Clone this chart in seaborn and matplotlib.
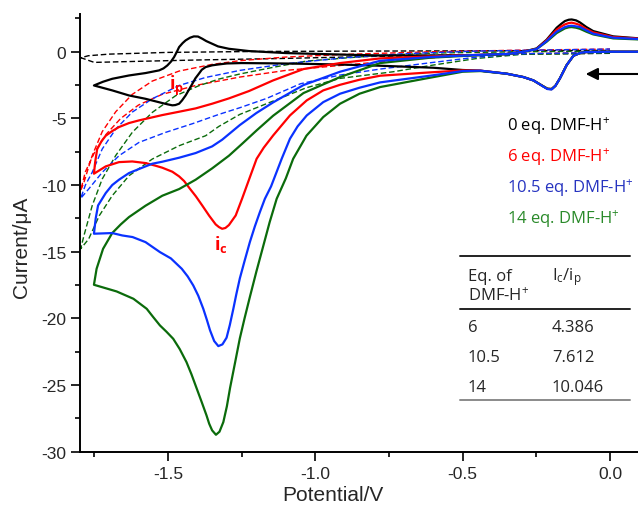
import numpy as np
import pandas as pd
import matplotlib
matplotlib.use("Agg")
import matplotlib.pyplot as plt
from matplotlib.lines import Line2D
from matplotlib.ticker import MultipleLocator, FixedLocator
import seaborn as sns

# ---------------- data ----------------
# Solid CVs: forward (cathodic) branch then reverse (anodic) branch
E_blk_fwd = [0.10, 0.0, -0.08, -0.10, -0.124, -0.147, -0.17, -0.185, -0.198, -0.212,
             -0.226, -0.245, -0.26, -0.294, -0.35, -0.44, -0.50, -0.60, -0.78, -0.90,
             -1.05, -1.15, -1.25, -1.30, -1.327, -1.35, -1.372, -1.385, -1.395, -1.407, -1.417,
             -1.43, -1.44, -1.452, -1.462, -1.475, -1.485, -1.50,
             -1.519, -1.576, -1.632, -1.689, -1.751]
I_blk_fwd = [0.0, 0.0, -0.02, -0.08, -0.3, -1.0, -2.0, -2.55, -2.8, -2.78,
             -2.6, -2.35, -2.15, -1.9, -1.65, -1.42, -1.37, -1.2, -1.05, -0.97,
             -0.9, -0.87, -0.85, -0.88, -0.95, -1.02, -1.15, -1.35, -1.65, -2.0, -2.4,
             -2.9, -3.28, -3.65, -3.9, -4.0, -4.02, -3.95,
             -3.85, -3.53, -3.28, -2.9, -2.53]
E_blk_rev = [-1.751, -1.72, -1.689, -1.632, -1.576, -1.53, -1.515, -1.502, -1.49, -1.479, -1.47,
             -1.462, -1.45, -1.44, -1.425, -1.412, -1.398, -1.383, -1.37, -1.35, -1.33, -1.293,
             -1.225, -1.10, -0.90, -0.78, -0.60, -0.44,
             -0.35, -0.294, -0.249, -0.215, -0.181, -0.165, -0.153, -0.14, -0.13, -0.115, -0.102,
             -0.08, -0.057, 0.011, 0.10]
I_blk_rev = [-2.53, -2.25, -2.03, -1.78, -1.6, -1.4, -1.25, -1.03, -0.75, -0.4, -0.02,
             0.35, 0.65, 0.85, 1.05, 1.15, 1.14, 0.97, 0.8, 0.6, 0.4, 0.22,
             0.05, -0.1, -0.22, -0.28, -0.28, -0.25,
             -0.17, 0.0, 0.25, 0.9, 1.8, 2.1, 2.3, 2.4, 2.42, 2.35, 2.2,
             1.85, 1.55, 1.15, 1.0]

E_red_fwd = [0.10, 0.0, -0.08, -0.10, -0.124, -0.147, -0.17, -0.185, -0.198, -0.212,
             -0.226, -0.245, -0.26, -0.294, -0.35, -0.44, -0.50, -0.611, -0.78, -0.85,
             -0.916, -0.973, -1.029, -1.086, -1.143, -1.175, -1.199, -1.225, -1.248, -1.27, -1.293,
             -1.305, -1.316, -1.327, -1.338, -1.36, -1.383, -1.405, -1.428, -1.445, -1.462, -1.485,
             -1.519, -1.542, -1.576, -1.621, -1.666, -1.711, -1.751]
I_red_fwd = [0.0, 0.0, -0.02, -0.08, -0.3, -1.0, -2.0, -2.55, -2.8, -2.78,
             -2.6, -2.35, -2.15, -1.9, -1.65, -1.42, -1.4, -1.55, -1.8, -2.1,
             -2.48, -2.9, -3.65, -4.78, -6.28, -7.2, -8.03, -9.6, -11.0, -12.28, -13.0,
             -13.22, -13.28, -13.15, -12.95, -12.3, -11.55, -10.85, -10.2, -9.7, -9.35, -9.0,
             -8.7, -8.55, -8.35, -8.23, -8.28, -8.6, -9.15]
E_red_rev = [-1.751, -1.747, -1.74, -1.725, -1.711, -1.689, -1.666, -1.632, -1.598, -1.519,
             -1.462, -1.406, -1.35, -1.293, -1.225, -1.143, -1.04, -0.916, -0.78, -0.611,
             -0.44, -0.35, -0.294, -0.249, -0.215, -0.181, -0.165, -0.153, -0.14, -0.13, -0.115,
             -0.102, -0.08, -0.057, 0.011, 0.10]
I_red_rev = [-9.15, -8.3, -7.3, -6.7, -6.3, -5.95, -5.65, -5.35, -5.15, -4.75,
             -4.5, -4.25, -3.9, -3.5, -2.95, -2.15, -1.3, -0.85, -0.5, -0.35,
             -0.23, -0.17, 0.0, 0.22, 0.85, 1.65, 1.9, 2.05, 2.15, 2.18, 2.1,
             2.0, 1.7, 1.45, 1.1, 0.98]

E_grn_fwd = [0.10, 0.0, -0.08, -0.10, -0.124, -0.147, -0.17, -0.185, -0.198, -0.212,
             -0.226, -0.245, -0.26, -0.294, -0.35, -0.44, -0.50, -0.611, -0.78, -0.85,
             -0.916, -0.973, -1.03, -1.075, -1.10, -1.131, -1.155, -1.176, -1.20, -1.222, -1.24,
             -1.256, -1.272, -1.289, -1.30, -1.312, -1.325, -1.337, -1.35, -1.36, -1.369, -1.385,
             -1.402, -1.42, -1.437, -1.46, -1.482, -1.505, -1.527, -1.55, -1.572,
             -1.617, -1.674, -1.697, -1.751]
I_grn_fwd = [0.0, 0.0, -0.02, -0.08, -0.3, -1.0, -2.0, -2.55, -2.8, -2.78,
             -2.6, -2.35, -2.15, -1.9, -1.65, -1.45, -1.5, -1.95, -2.65, -3.15,
             -3.9, -4.9, -6.3, -8.03, -9.5, -11.03, -12.8, -14.53, -16.5, -18.4, -20.0,
             -21.5, -23.3, -25.2, -26.6, -27.78, -28.5, -28.73, -28.4, -27.9, -27.28, -26.3,
             -25.28, -24.2, -23.28, -22.3, -21.53, -21.0, -20.53, -19.9, -19.28,
             -18.53, -17.98, -17.83, -17.48]
E_grn_rev = [-1.751, -1.742, -1.72, -1.689, -1.66, -1.632, -1.576, -1.519, -1.462, -1.406, -1.35,
             -1.293, -1.248, -1.199, -1.143, -1.04, -0.916, -0.78, -0.611, -0.44, -0.35,
             -0.294, -0.249, -0.215, -0.181, -0.165, -0.153, -0.14, -0.13, -0.115, -0.102,
             -0.08, -0.057, 0.011, 0.10]
I_grn_rev = [-17.48, -16.28, -14.78, -13.6, -12.95, -12.4, -11.55, -10.8, -10.3, -9.6, -8.75,
             -7.8, -6.9, -5.9, -4.8, -3.1, -1.9, -0.85, -0.45, -0.25, -0.18,
             0.0, 0.2, 0.75, 1.4, 1.6, 1.75, 1.83, 1.85, 1.8, 1.72,
             1.5, 1.3, 1.0, 0.92]

E_blu_fwd = [0.10, 0.0, -0.08, -0.10, -0.124, -0.147, -0.17, -0.185, -0.198, -0.212,
             -0.226, -0.245, -0.26, -0.294, -0.35, -0.44, -0.50, -0.611, -0.78, -0.85,
             -0.916, -0.973, -1.029, -1.06, -1.086, -1.114, -1.15, -1.171, -1.188, -1.205, -1.222, -1.24,
             -1.256, -1.268, -1.278, -1.29, -1.301, -1.315, -1.329, -1.343, -1.357, -1.368, -1.38,
             -1.397, -1.414, -1.433, -1.453, -1.49, -1.527, -1.576, -1.62, -1.655, -1.689, -1.751]
I_blu_fwd = [0.0, 0.0, -0.02, -0.08, -0.3, -1.0, -2.0, -2.55, -2.83, -2.8,
             -2.62, -2.35, -2.15, -1.9, -1.65, -1.42, -1.45, -1.8, -2.3, -2.7,
             -3.15, -3.78, -4.78, -5.6, -6.53, -8.03, -10.1, -11.03, -12.03, -13.1, -14.28, -15.7,
             -17.0, -18.2, -19.28, -20.5, -21.45, -21.95, -22.08, -21.7, -20.9, -20.1, -19.28,
             -18.3, -17.53, -16.85, -16.28, -15.5, -15.03, -14.28, -13.9, -13.78, -13.6, -13.65]
E_blu_rev = [-1.751, -1.745, -1.737, -1.711, -1.689, -1.666, -1.632, -1.621, -1.576, -1.553,
             -1.519, -1.462, -1.406, -1.35, -1.316, -1.256, -1.20, -1.143, -1.04, -0.916,
             -0.78, -0.611, -0.44, -0.35, -0.294, -0.249, -0.215, -0.181, -0.165, -0.153, -0.14,
             -0.13, -0.115, -0.102, -0.08, -0.057, 0.011, 0.10]
I_blu_rev = [-13.65, -12.5, -11.53, -10.6, -10.0, -9.6, -9.1, -9.0, -8.6, -8.4,
             -8.25, -7.95, -7.6, -7.1, -6.6, -5.5, -4.6, -3.8, -2.5, -1.5,
             -0.68, -0.4, -0.23, -0.17, 0.0, 0.2, 0.8, 1.5, 1.7, 1.85, 1.93,
             1.95, 1.9, 1.85, 1.6, 1.35, 1.05, 0.95]

# Dashed (background) scans: lower branch 0 -> -1.8 V, upper branch back to 0 V
E_kd = [0.0, -0.4, -0.8, -1.1, -1.4, -1.6, -1.75, -1.795, -1.77, -1.7, -1.5, -1.2, -0.8, -0.4, 0.0]
I_kd = [-0.12, -0.2, -0.35, -0.5, -0.62, -0.72, -0.8, -0.45, -0.3, -0.18, -0.05, 0.02, 0.05, 0.07, 0.1]

E_rd = [0.0, -0.3, -0.5, -0.7, -0.9, -1.1, -1.256, -1.4, -1.52, -1.6, -1.66, -1.71, -1.75, -1.78, -1.796,
        -1.785, -1.757, -1.723, -1.677, -1.621, -1.553, -1.462, -1.35, -1.256, -1.1, -0.9, -0.6, -0.3, 0.0]
I_rd = [-0.05, -0.15, -0.3, -0.6, -1.0, -1.4, -1.9, -2.5, -3.2, -4.0, -5.0, -6.2, -7.6, -9.0, -10.4,
        -9.8, -7.8, -6.0, -4.5, -3.2, -2.2, -1.45, -0.95, -0.67, -0.4, -0.2, 0.0, 0.12, 0.2]

E_bd = [0.0, -0.3, -0.45, -0.6, -0.78, -0.916, -1.05, -1.165, -1.256, -1.327, -1.417, -1.508, -1.598, -1.666,
        -1.723, -1.769, -1.796, -1.78, -1.757, -1.723, -1.677, -1.621, -1.553, -1.462, -1.372, -1.256,
        -1.1, -0.9, -0.7, -0.45, 0.0]
I_bd = [-0.05, -0.15, -0.4, -0.8, -1.3, -1.75, -2.4, -3.5, -4.2, -4.7, -5.4, -6.05, -6.8, -7.8,
        -9.05, -10.3, -11.0, -10.0, -9.05, -7.3, -5.8, -4.53, -3.53, -2.53, -1.93, -1.4,
        -0.9, -0.45, -0.15, 0.05, 0.2]

E_gd = [0.0, -0.3, -0.45, -0.6, -0.735, -0.916, -1.03, -1.143, -1.256, -1.327, -1.372, -1.462, -1.553,
        -1.632, -1.689, -1.733, -1.769, -1.796, -1.785, -1.757, -1.723, -1.677, -1.621, -1.553, -1.474,
        -1.395, -1.327, -1.256, -1.143, -1.03, -0.8, -0.6, -0.3, 0.0]
I_gd = [-0.1, -0.2, -0.5, -1.0, -1.5, -2.0, -2.7, -3.7, -4.7, -5.6, -6.3, -7.05, -8.05,
        -9.3, -10.8, -12.3, -14.05, -14.78, -13.8, -11.55, -9.55, -7.78, -6.05, -4.55, -3.3,
        -2.55, -2.05, -1.67, -1.17, -0.7, -0.3, -0.1, 0.0, 0.05]

legend_labels = ["0 eq. DMF-H$^{+}$", "6 eq. DMF-H$^{+}$", "10.5 eq. DMF-H$^{+}$", "14 eq. DMF-H$^{+}$"]
table_eq = ["6", "10.5", "14"]
table_ratio = ["4.386", "7.612", "10.046"]

x_major = [-1.5, -1.0, -0.5, 0.0]
x_minor = [-1.75, -1.25, -0.75, -0.25]

# ---------------- styling ----------------
sns.set_theme(style="ticks")
plt.rcParams.update({
    "font.family": ["Liberation Sans", "DejaVu Sans"],
    "axes.unicode_minus": False,
    "mathtext.fontset": "custom",
    "mathtext.rm": "Open Sans",
    "mathtext.it": "Open Sans:italic",
    "mathtext.bf": "Open Sans:bold",
    "lines.solid_joinstyle": "round",
    "lines.dash_joinstyle": "round",
})

C_BLK = "#000000"
C_RED = "#ff0000"
C_BLU = "#0a32ff"
C_GRN = "#0b6b0b"
T_BLU = "#2633c0"
T_GRN = "#2a8a2a"

W, H = 638, 506
fig = plt.figure(figsize=(W / 100, H / 100), dpi=100)
fig.patch.set_facecolor("white")
ax_l, ax_r, ax_t, ax_b = 79.5, 638, 15, 452.7
ax = fig.add_axes([ax_l / W, 1 - ax_b / H, (ax_r - ax_l) / W, (ax_b - ax_t) / H])
ax.set_facecolor("white")


def loop(e1, i1, e2=None, i2=None):
    e = list(e1) + (list(e2) if e2 is not None else [])
    i = list(i1) + (list(i2) if i2 is not None else [])
    return pd.DataFrame({"E": e, "I": i})


dash = (0, (4, 2))
for e, i, c in [(E_kd, I_kd, C_BLK), (E_rd, I_rd, C_RED), (E_gd, I_gd, C_GRN), (E_bd, I_bd, C_BLU)]:
    sns.lineplot(data=loop(e, i), x="E", y="I", sort=False, estimator=None,
                 color=c, linewidth=1.0, linestyle=dash, ax=ax)

for ef, i_f, er, ir, c in [(E_blk_fwd, I_blk_fwd, E_blk_rev, I_blk_rev, C_BLK),
                           (E_red_fwd, I_red_fwd, E_red_rev, I_red_rev, C_RED),
                           (E_grn_fwd, I_grn_fwd, E_grn_rev, I_grn_rev, C_GRN),
                           (E_blu_fwd, I_blu_fwd, E_blu_rev, I_blu_rev, C_BLU)]:
    sns.lineplot(data=loop(ef, i_f, er, ir), x="E", y="I", sort=False, estimator=None,
                 color=c, linewidth=1.6, ax=ax)

ax.set_xlim(-1.80, 0.095)
ax.set_ylim(-30, 2.83)
ax.xaxis.set_major_locator(FixedLocator(x_major))
ax.xaxis.set_minor_locator(FixedLocator(x_minor))
ax.set_xticklabels([f"{v:.1f}" for v in x_major])
ax.yaxis.set_major_locator(MultipleLocator(5))
ax.yaxis.set_minor_locator(MultipleLocator(2.5))
ax.tick_params(which="major", direction="out", length=6.5, width=1.4, labelsize=12.5, pad=3)
ax.tick_params(which="minor", direction="out", length=3.5, width=1.4)
ax.tick_params(axis="x", which="major", pad=4)
for s in ["top", "right"]:
    ax.spines[s].set_visible(False)
for s in ["left", "bottom"]:
    ax.spines[s].set_linewidth(1.4)
    ax.spines[s].set_color("black")
ax.set_xlabel("")
ax.set_ylabel("")

fig.text(333 / W, 0.8 / H, "Potential/V", ha="center", va="bottom", fontsize=15)
fig.text(22 / W, 1 - 247 / H, "Current/μA", ha="center", va="center", rotation=90, fontsize=15)

# arrow showing scan direction
ax.annotate("", xy=(-0.092, -1.67), xytext=(0.12, -1.67),
            arrowprops=dict(arrowstyle="-|>", color="black", lw=1.5, mutation_scale=18),
            annotation_clip=False)

# peak labels
ax.text(-1.495, -2.8, r"i$_{\mathbf{p}}$", color=C_RED, fontsize=13, fontweight="bold",
        family="Open Sans", ha="left", va="baseline")
ax.text(-1.345, -14.8, r"i$_{\mathbf{c}}$", color=C_RED, fontsize=13, fontweight="bold",
        family="Open Sans", ha="left", va="baseline")

# legend as coloured text
for lab, col, yb in zip(legend_labels, [C_BLK, C_RED, T_BLU, T_GRN], [131, 162, 193, 223.5]):
    fig.text(507 / W, 1 - yb / H, lab, color=col, fontsize=12, family="Open Sans",
             ha="left", va="baseline")

# table
for yy, col in [(256.7, "#222222"), (310, "#222222"), (400.7, "#8a8a8a")]:
    fig.add_artist(Line2D([460 / W, 630 / W], [1 - yy / H, 1 - yy / H], color=col, lw=1.4,
                          transform=fig.transFigure))
fs_t = 12
fig.text(468 / W, 1 - 280.7 / H, "Eq. of", fontsize=fs_t, family="Open Sans", ha="left", va="baseline")
fig.text(468 / W, 1 - 301 / H, "DMF-H$^{+}$", fontsize=fs_t, family="Open Sans", ha="left", va="baseline")
fig.text(552 / W, 1 - 280.7 / H, r"I$_\mathrm{c}$/i$_\mathrm{p}$", fontsize=fs_t, family="Open Sans",
         ha="left", va="baseline")
for k, (a, b) in enumerate(zip(table_eq, table_ratio)):
    yb = [331.7, 361.7, 391.7][k]
    fig.text(468 / W, 1 - yb / H, a, fontsize=fs_t, family="Open Sans", ha="left", va="baseline")
    fig.text(552 / W, 1 - yb / H, b, fontsize=fs_t, family="Open Sans", ha="left", va="baseline")

fig.savefig("out.png", dpi=100)
